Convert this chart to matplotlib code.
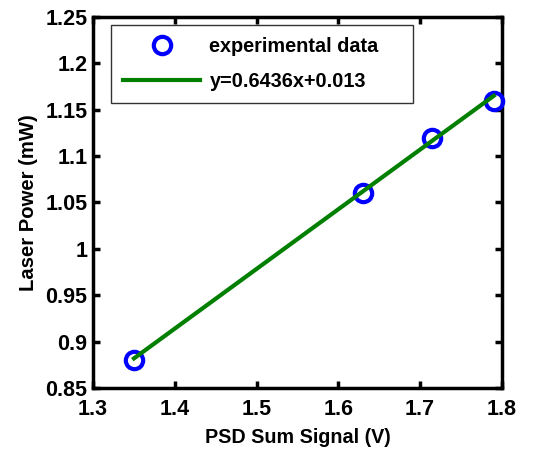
import matplotlib
matplotlib.use('Agg')
import matplotlib.pyplot as plt
import numpy as np
from matplotlib.ticker import FuncFormatter

# measured points
psd_sum = [1.35, 1.63, 1.715, 1.79]
laser_power = [0.88, 1.06, 1.12, 1.16]

# linear fit y = a*x + b
fit_a = 0.6436
fit_b = 0.013

x_ticks = [1.3, 1.4, 1.5, 1.6, 1.7, 1.8]
y_ticks = [0.85, 0.9, 0.95, 1.0, 1.05, 1.1, 1.15, 1.2, 1.25]

plt.rcParams['font.family'] = ['Liberation Sans', 'DejaVu Sans']
plt.rcParams['font.weight'] = 'bold'

fig = plt.figure(figsize=(5.38, 4.49), dpi=100)
ax = fig.add_axes([0.173, 0.136, 0.760, 0.826])

fit_x = np.array([psd_sum[0], psd_sum[-1]])
fit_y = fit_a * fit_x + fit_b

ax.plot(psd_sum, laser_power, 'o', markersize=12.5, markerfacecolor='none',
        markeredgecolor='#0000ff', markeredgewidth=3, label='experimental data',
        clip_on=False, zorder=3)
ax.plot(fit_x, fit_y, '-', color='#007f00', linewidth=3,
        label='y={}x+{}'.format(fit_a, fit_b), zorder=4)

ax.set_xlim(1.3, 1.8)
ax.set_ylim(0.85, 1.25)
ax.set_xticks(x_ticks)
ax.set_yticks(y_ticks)
ax.yaxis.set_major_formatter(FuncFormatter(lambda v, p: '{:g}'.format(round(v, 2))))
ax.xaxis.set_major_formatter(FuncFormatter(lambda v, p: '{:g}'.format(round(v, 1))))
ax.tick_params(direction='in', top=True, right=True, width=2.5, length=5,
               labelsize=15.5)
ax.tick_params(axis='x', pad=8)
ax.tick_params(axis='y', pad=4)
for s in ax.spines.values():
    s.set_linewidth(2.5)

ax.set_xlabel('PSD Sum Signal (V)', fontsize=14.2, fontweight='bold', labelpad=6)
ax.set_ylabel('Laser Power (mW)', fontsize=14.6, fontweight='bold', labelpad=5)

leg = ax.legend(loc='upper left', bbox_to_anchor=(0.044, 0.779, 0.738, 0.199),
                mode='expand', fontsize=14.3,
                frameon=True, fancybox=False, edgecolor='black',
                handlelength=3.9, borderpad=0.6, labelspacing=0.8,
                handletextpad=0.45, borderaxespad=0)
leg.get_frame().set_linewidth(1)

fig.savefig('out.png', dpi=100)
